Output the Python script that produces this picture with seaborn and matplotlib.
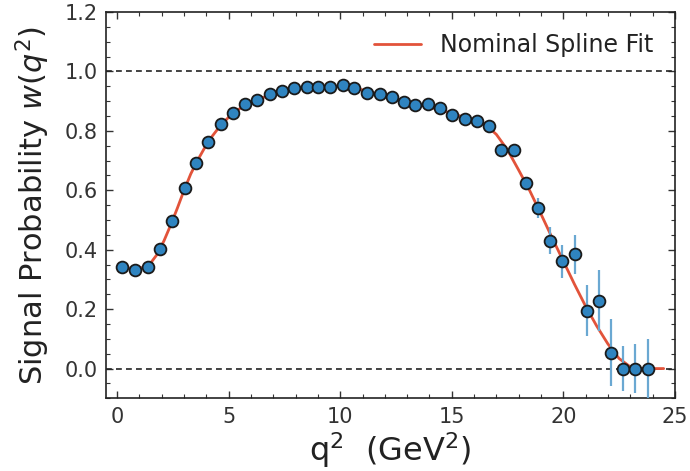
import numpy as np
import pandas as pd
import matplotlib
matplotlib.use("Agg")
import matplotlib.pyplot as plt
from matplotlib.ticker import MultipleLocator
import seaborn as sns

# ---- data ----
q2 = [0.23, 0.80, 1.37, 1.92, 2.48, 3.02, 3.55, 4.09, 4.64, 5.21,
      5.74, 6.29, 6.85, 7.37, 7.93, 8.49, 9.01, 9.55, 10.11, 10.63,
      11.22, 11.77, 12.30, 12.84, 13.36, 13.92, 14.49, 15.03, 15.59, 16.14,
      16.67, 17.23, 17.79, 18.32, 18.87, 19.40, 19.93, 20.51, 21.05, 21.58,
      22.14, 22.68, 23.23, 23.80]
w = [0.341, 0.333, 0.341, 0.403, 0.497, 0.608, 0.693, 0.763, 0.823, 0.860,
     0.890, 0.903, 0.923, 0.934, 0.944, 0.949, 0.949, 0.949, 0.953, 0.944,
     0.929, 0.923, 0.915, 0.897, 0.886, 0.890, 0.876, 0.852, 0.841, 0.832,
     0.818, 0.734, 0.737, 0.626, 0.541, 0.431, 0.361, 0.384, 0.195, 0.229,
     0.054, 0.0, 0.0, 0.0]
w_err = [0.008, 0.008, 0.008, 0.008, 0.008, 0.008, 0.008, 0.008, 0.008, 0.008,
         0.008, 0.008, 0.008, 0.008, 0.008, 0.008, 0.008, 0.008, 0.008, 0.008,
         0.008, 0.008, 0.008, 0.008, 0.008, 0.010, 0.010, 0.010, 0.010, 0.012,
         0.012, 0.015, 0.015, 0.020, 0.034, 0.045, 0.056, 0.065, 0.086, 0.103,
         0.113, 0.075, 0.083, 0.100]

fit_q2 = [0.2, 0.7, 1.2, 1.5, 1.8, 2.1, 2.4, 2.7, 3.0, 3.3,
          3.6, 3.9, 4.2, 4.6, 5.0, 5.5, 6.0, 6.5, 7.0, 7.5,
          8.0, 8.5, 9.0, 9.5, 10.0, 10.5, 11.0, 11.5, 12.0, 12.5,
          13.0, 13.5, 14.0, 14.5, 15.0, 15.5, 16.0, 16.5, 17.0, 17.5,
          18.0, 18.5, 19.0, 19.5, 20.0, 20.5, 21.0, 21.5, 22.0, 22.5,
          23.0, 23.5, 24.0, 24.5]
fit_w = [0.340, 0.337, 0.340, 0.355, 0.385, 0.430, 0.483, 0.540, 0.600, 0.655,
         0.700, 0.740, 0.776, 0.815, 0.846, 0.875, 0.895, 0.911, 0.924, 0.934,
         0.942, 0.947, 0.950, 0.951, 0.950, 0.946, 0.938, 0.928, 0.918, 0.908,
         0.898, 0.889, 0.880, 0.870, 0.859, 0.847, 0.835, 0.822, 0.788, 0.736,
         0.668, 0.598, 0.520, 0.440, 0.362, 0.284, 0.210, 0.143, 0.083, 0.034,
         0.006, 0.0, 0.0, 0.0]

x_ticks = [0, 5, 10, 15, 20, 25]
y_ticks = [0.0, 0.2, 0.4, 0.6, 0.8, 1.0, 1.2]
ref_lines = [0.0, 1.0]

df = pd.DataFrame({"q2": q2, "w": w, "err": w_err})
df_fit = pd.DataFrame({"q2": fit_q2, "w": fit_w})

sns.set_theme(style="ticks")
plt.rcParams['font.family'] = ['DejaVu Sans']

fig = plt.figure(figsize=(6.9, 4.71), dpi=100)
ax = fig.add_axes([0.1536, 0.1544, 0.978 - 0.1536, 0.9745 - 0.1544])

for yv in ref_lines:
    ax.axhline(yv, color="#222222", ls=(0, (3.5, 2.5)), lw=1.2, zorder=1)

sns.lineplot(data=df_fit, x="q2", y="w", ax=ax, color="#e2533a", lw=2.0,
             label="Nominal Spline Fit", zorder=2)
ax.errorbar(df["q2"], df["w"], yerr=df["err"], fmt="none",
            ecolor="#6aa8d2", elinewidth=1.6, capsize=0, zorder=3)
sns.scatterplot(data=df, x="q2", y="w", ax=ax, color="#2f84c0",
                edgecolor="#1a1a1a", linewidth=1.3, s=72, zorder=4, legend=False)

ax.set_xlim(-0.5, 25)
ax.set_ylim(-0.1, 1.2)
ax.set_xticks(x_ticks)
ax.set_yticks(y_ticks)
ax.set_yticklabels([f"{v:.1f}" for v in y_ticks])
ax.xaxis.set_minor_locator(MultipleLocator(1))
ax.yaxis.set_minor_locator(MultipleLocator(0.05))
ax.tick_params(which="both", direction="in", top=True, right=True,
               colors="#333333", labelcolor="#333333", labelsize=15)
ax.tick_params(which="major", length=5, width=1, pad=6)
ax.tick_params(which="minor", length=3, width=0.8)
for s in ax.spines.values():
    s.set_color("#222222")
    s.set_linewidth(1.2)

ax.set_xlabel(r"q$^2$  (GeV$^2$)", fontsize=23, color="#222222", labelpad=3)
ax.set_ylabel(r"Signal Probability $w(q^2)$", fontsize=22, color="#222222", labelpad=9)

leg = ax.legend(loc="upper right", frameon=False, fontsize=17, handlelength=2.0,
                borderaxespad=0.5)
for t in leg.get_texts():
    t.set_color("#222222")

fig.savefig("out.png", dpi=100)
